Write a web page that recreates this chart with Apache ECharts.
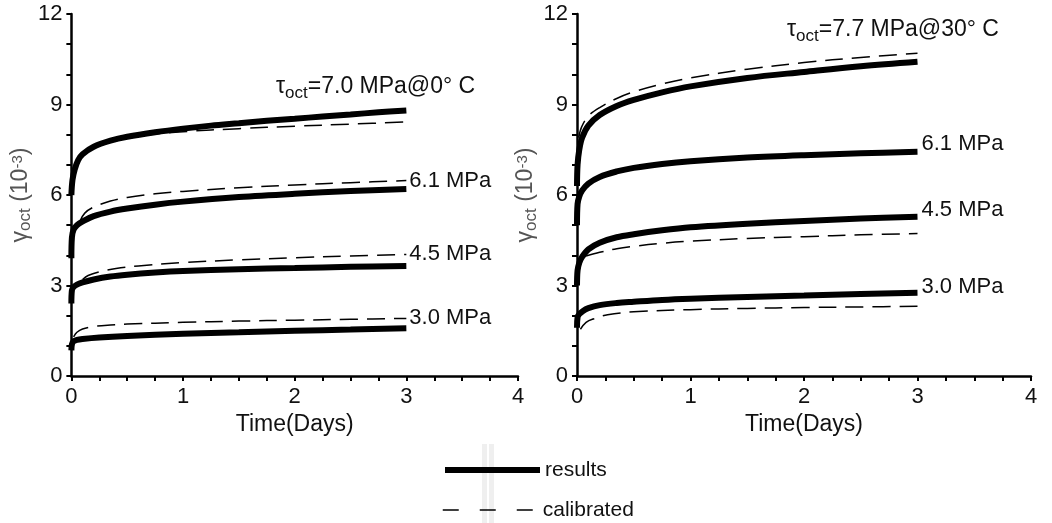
<!DOCTYPE html>
<html>
<head>
<meta charset="utf-8">
<script src="https://cdn.jsdelivr.net/npm/echarts@6/dist/echarts.min.js"></script>
<style>
html,body{margin:0;padding:0;background:#fff;}
#chart{width:1052px;height:523px;}
</style>
</head>
<body>
<div id="chart"></div>
<script>
// ---------- Left panel: tau_oct = 7.0 MPa @ 0 C ----------
const L70_res_t = [0, 0.01, 0.03, 0.06, 0.1, 0.2, 0.35, 0.5, 0.75, 1, 1.25, 1.5, 1.75, 2, 2.25, 2.5, 2.75, 3];
const L70_res_v = [6.0, 6.5, 6.85, 7.15, 7.35, 7.6, 7.8, 7.93, 8.08, 8.2, 8.3, 8.38, 8.46, 8.53, 8.6, 8.67, 8.74, 8.8];
const L70_cal_t = [0.03, 0.06, 0.1, 0.2, 0.35, 0.5, 0.75, 1, 1.5, 2, 2.5, 3];
const L70_cal_v = [6.8, 7.1, 7.3, 7.55, 7.75, 7.88, 8.02, 8.1, 8.2, 8.28, 8.35, 8.42];

const L61_res_t = [0, 0.005, 0.02, 0.05, 0.1, 0.2, 0.35, 0.5, 0.75, 1, 1.5, 2, 2.5, 3];
const L61_res_v = [3.9, 4.6, 4.85, 5.0, 5.12, 5.3, 5.45, 5.55, 5.68, 5.78, 5.93, 6.04, 6.13, 6.2];
const L61_cal_t = [0.08, 0.12, 0.2, 0.35, 0.5, 0.75, 1, 1.5, 2, 2.5, 3];
const L61_cal_v = [5.15, 5.4, 5.6, 5.8, 5.92, 6.04, 6.12, 6.24, 6.33, 6.41, 6.48];

const L45_res_t = [0, 0.005, 0.02, 0.05, 0.1, 0.2, 0.35, 0.5, 0.75, 1, 1.5, 2, 2.5, 3];
const L45_res_v = [2.4, 2.85, 2.95, 3.03, 3.1, 3.2, 3.3, 3.36, 3.43, 3.48, 3.54, 3.58, 3.62, 3.65];
const L45_cal_t = [0.1, 0.15, 0.25, 0.4, 0.6, 1, 1.5, 2, 2.5, 3];
const L45_cal_v = [3.2, 3.33, 3.45, 3.56, 3.65, 3.76, 3.85, 3.92, 3.98, 4.03];

const L30_res_t = [0, 0.005, 0.02, 0.05, 0.1, 0.25, 0.5, 1, 1.5, 2, 2.5, 3];
const L30_res_v = [0.85, 1.05, 1.15, 1.2, 1.23, 1.28, 1.33, 1.4, 1.45, 1.5, 1.54, 1.58];
const L30_cal_t = [0.02, 0.05, 0.1, 0.2, 0.35, 0.5, 1, 1.5, 2, 2.5, 3];
const L30_cal_v = [1.3, 1.45, 1.56, 1.64, 1.69, 1.72, 1.78, 1.82, 1.85, 1.88, 1.91];

// ---------- Right panel: tau_oct = 7.7 MPa @ 30 C ----------
const R77_res_t = [0, 0.005, 0.02, 0.045, 0.1, 0.2, 0.35, 0.5, 0.75, 1, 1.5, 2, 2.5, 3];
const R77_res_v = [6.3, 7.0, 7.5, 7.9, 8.3, 8.65, 8.95, 9.15, 9.4, 9.6, 9.88, 10.08, 10.27, 10.42];
const R77_cal_t = [0.015, 0.04, 0.1, 0.2, 0.35, 0.5, 0.75, 1, 1.5, 2, 2.5, 3];
const R77_cal_v = [7.9, 8.25, 8.62, 8.9, 9.2, 9.42, 9.68, 9.88, 10.17, 10.39, 10.56, 10.7];

const R61_res_t = [0, 0.005, 0.02, 0.045, 0.1, 0.2, 0.35, 0.5, 0.75, 1, 1.5, 2, 2.5, 3];
const R61_res_v = [5.0, 5.7, 5.95, 6.15, 6.38, 6.6, 6.78, 6.9, 7.03, 7.12, 7.24, 7.32, 7.38, 7.43];
const R61_cal_t = [0.02, 0.1, 0.3, 0.6, 1, 2, 3];
const R61_cal_v = [5.95, 6.36, 6.72, 6.95, 7.1, 7.3, 7.4];

const R45_res_t = [0, 0.005, 0.02, 0.045, 0.1, 0.2, 0.35, 0.5, 0.75, 1, 1.5, 2, 2.5, 3];
const R45_res_v = [3.0, 3.5, 3.75, 3.95, 4.2, 4.42, 4.6, 4.7, 4.83, 4.93, 5.05, 5.14, 5.22, 5.28];
const R45_cal_t = [0.08, 0.2, 0.35, 0.5, 0.75, 1, 1.5, 2, 2.5, 3];
const R45_cal_v = [3.98, 4.1, 4.22, 4.3, 4.4, 4.47, 4.56, 4.62, 4.68, 4.72];

const R30_res_t = [0, 0.005, 0.02, 0.05, 0.1, 0.2, 0.35, 0.5, 0.75, 1, 1.5, 2, 2.5, 3];
const R30_res_v = [1.6, 1.95, 2.05, 2.15, 2.25, 2.35, 2.42, 2.46, 2.52, 2.56, 2.62, 2.67, 2.72, 2.76];
const R30_cal_t = [0.03, 0.08, 0.15, 0.27, 0.5, 1, 1.5, 2, 2.5, 3];
const R30_cal_v = [1.55, 1.78, 1.9, 2.03, 2.13, 2.2, 2.24, 2.27, 2.29, 2.31];

// ---------- Axis ticks / labels ----------
const xTicks = [0, 1, 2, 3, 4];
const yTicks = [0, 3, 6, 9, 12];
const leftTitle = ['τ', 'oct', '=7.0 MPa@0° C'];
const rightTitle = ['τ', 'oct', '=7.7 MPa@30° C'];
const stressLabels = ['6.1 MPa', '4.5 MPa', '3.0 MPa'];

const FONT = '"Liberation Sans", Arial, sans-serif';
const zip = (t, v) => t.map((x, i) => [x, v[i]]);

function xAxis(idx) {
  return {
    gridIndex: idx, type: 'value', min: xTicks[0], max: xTicks[xTicks.length - 1], interval: 1,
    name: 'Time(Days)', nameLocation: 'middle', nameGap: 37,
    nameTextStyle: { fontSize: 23, color: '#111', fontFamily: FONT },
    axisLine: { show: true, onZero: false, lineStyle: { color: '#000', width: 2.5 } },
    axisTick: { show: true, inside: false, length: 5, lineStyle: { color: '#000', width: 2 } },
    minorTick: { show: true, splitNumber: 4, length: 5, lineStyle: { color: '#000', width: 2 } },
    splitLine: { show: false },
    axisLabel: { fontSize: 22, color: '#111', fontFamily: FONT, margin: 10 }
  };
}
function yAxis(idx, gap) {
  return {
    gridIndex: idx, type: 'value', min: yTicks[0], max: yTicks[yTicks.length - 1], interval: 3,
    name: '{g|γ}{s|oct}{n| (10}{p|-3}{n|)}', nameLocation: 'middle', nameGap: gap, nameRotate: 90,
    nameTextStyle: {
      color: '#555', fontFamily: FONT,
      rich: {
        g: { fontSize: 23, color: '#555', fontFamily: FONT, lineHeight: 26, padding: [6, 0, 0, 0] },
        s: { fontSize: 17, color: '#555', fontFamily: FONT, lineHeight: 20, padding: [16, 0, 0, 0] },
        n: { fontSize: 23, color: '#555', fontFamily: FONT, lineHeight: 26, padding: [6, 0, 0, 0] },
        p: { fontSize: 15, color: '#555', fontFamily: FONT, lineHeight: 18, padding: [0, 0, 0, 0] }
      }
    },
    axisLine: { show: true, onZero: false, lineStyle: { color: '#000', width: 2.5 } },
    axisTick: { show: true, inside: false, length: 5, lineStyle: { color: '#000', width: 2 } },
    minorTick: { show: true, splitNumber: 3, length: 5, lineStyle: { color: '#000', width: 2 } },
    splitLine: { show: false },
    axisLabel: { fontSize: 22, color: '#111', fontFamily: FONT, margin: 9 }
  };
}

function resSeries(g, t, v, label, offsetY) {
  const s = {
    name: 'results', type: 'line', xAxisIndex: g, yAxisIndex: g,
    data: zip(t, v), smooth: 0.35, symbol: 'none', z: 5,
    lineStyle: { color: '#000', width: 6 }, itemStyle: { color: '#000' }
  };
  if (label) {
    s.endLabel = { show: true, formatter: label, distance: 4, offset: [0, offsetY],
      fontSize: 22, color: '#111', fontFamily: FONT };
  }
  return s;
}
function calSeries(g, t, v, label) {
  const s = {
    name: 'calibrated', type: 'line', xAxisIndex: g, yAxisIndex: g,
    data: zip(t, v), smooth: 0.35, symbol: 'none', z: 3,
    lineStyle: { color: '#000', width: 1.5, type: [18, 9] }, itemStyle: { color: '#000' }
  };
  if (label) {
    s.endLabel = { show: true, formatter: label, distance: 3,
      fontSize: 22, color: '#111', fontFamily: FONT };
  }
  return s;
}

function titleText(parts, x, y) {
  return {
    type: 'text', left: x, top: y, z: 10,
    style: {
      text: '{a|' + parts[0] + '}{s|' + parts[1] + '}{a|' + parts[2] + '}',
      fontFamily: FONT,
      rich: {
        a: { fontSize: 23, fill: '#111', fontFamily: FONT, lineHeight: 26 },
        s: { fontSize: 17, fill: '#111', fontFamily: FONT, lineHeight: 20, padding: [13, 0, 0, 0] }
      }
    }
  };
}

const legendBase = {
  orient: 'vertical', left: 442, padding: 0, itemWidth: 95, itemHeight: 14, itemGap: 5,
  itemStyle: { opacity: 0, color: 'rgba(0,0,0,0)', borderWidth: 0 },
  textStyle: { fontSize: 21, color: '#111', fontFamily: FONT, lineHeight: 24 }
};

const chart = echarts.init(document.getElementById('chart'));
chart.setOption({
  backgroundColor: '#fff',
  animation: false,
  grid: [
    { left: 68, right: 534, top: 14, bottom: 147 },
    { left: 577, right: 21, top: 14, bottom: 147 }
  ],
  xAxis: [xAxis(0), xAxis(1)],
  yAxis: [yAxis(0, 29), yAxis(1, 25)],
  legend: [
    Object.assign({}, legendBase, { top: 458, data: [{ name: 'results',
      itemStyle: { opacity: 0, color: 'rgba(0,0,0,0)', borderWidth: 0 },
      lineStyle: { width: 6, color: '#000' } }] }),
    Object.assign({}, legendBase, { top: 498, data: [{ name: 'calibrated',
      itemStyle: { opacity: 0, color: 'rgba(0,0,0,0)', borderWidth: 0 },
      lineStyle: { type: [16, 21], width: 1.5, color: '#000' } }] })
  ],
  graphic: [
    { type: 'rect', left: 482, top: 444, shape: { width: 5, height: 79 }, style: { fill: '#efefef' }, z: -1 },
    { type: 'rect', left: 489, top: 444, shape: { width: 5, height: 79 }, style: { fill: '#efefef' }, z: -1 },
    titleText(leftTitle, 276, 72),
    titleText(rightTitle, 787, 15)
  ],
  series: [
    calSeries(0, L70_cal_t, L70_cal_v, null),
    calSeries(0, L61_cal_t, L61_cal_v, stressLabels[0]),
    calSeries(0, L45_cal_t, L45_cal_v, stressLabels[1]),
    calSeries(0, L30_cal_t, L30_cal_v, stressLabels[2]),
    resSeries(0, L70_res_t, L70_res_v, null, 0),
    resSeries(0, L61_res_t, L61_res_v, null, 0),
    resSeries(0, L45_res_t, L45_res_v, null, 0),
    resSeries(0, L30_res_t, L30_res_v, null, 0),
    calSeries(1, R77_cal_t, R77_cal_v, null),
    calSeries(1, R61_cal_t, R61_cal_v, null),
    calSeries(1, R45_cal_t, R45_cal_v, null),
    calSeries(1, R30_cal_t, R30_cal_v, null),
    resSeries(1, R77_res_t, R77_res_v, null, 0),
    resSeries(1, R61_res_t, R61_res_v, stressLabels[0], -8),
    resSeries(1, R45_res_t, R45_res_v, stressLabels[1], -7),
    resSeries(1, R30_res_t, R30_res_v, stressLabels[2], -6)
  ]
});
</script>
</body>
</html>
